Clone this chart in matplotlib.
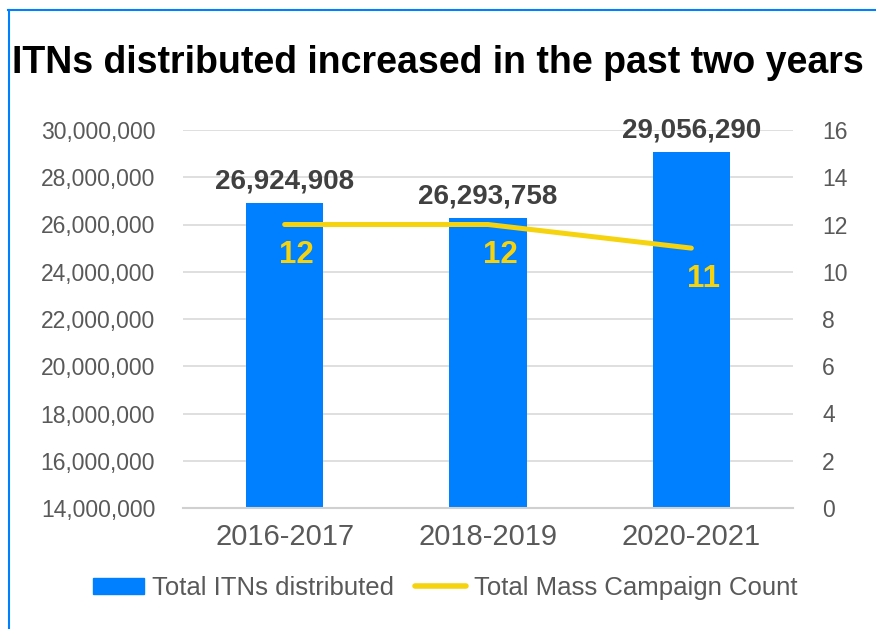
import matplotlib.pyplot as plt
from matplotlib.lines import Line2D
from matplotlib.ticker import FuncFormatter

# data
periods = ["2016-2017", "2018-2019", "2020-2021"]
itns = [26924908, 26293758, 29056290]
campaigns = [12, 12, 11]

blue = "#0080FF"
yellow = "#F5D40F"
grey = "#595959"

plt.rcParams['font.family'] = ['Liberation Sans', 'DejaVu Sans']

fig = plt.figure(figsize=(8.76, 6.29), dpi=100)
ax = fig.add_axes([183 / 876, 1 - 508 / 629, 610 / 876, 378 / 629])
ax2 = ax.twinx()

x = range(len(periods))
bars = ax.bar(x, itns, width=0.38, color=blue, zorder=2, label="Total ITNs distributed")
ax.set_ylim(14000000, 30000000)
ax.set_yticks(range(14000000, 30000001, 2000000))
ax.yaxis.set_major_formatter(FuncFormatter(lambda v, p: f"{int(v):,}"))
ax.set_xlim(-0.5, 2.5)
ax.set_xticks(list(x))
ax.set_xticklabels(periods, fontsize=21, color=grey)
ax.tick_params(axis='y', labelsize=16.5, colors=grey, length=0, pad=20)
ax.tick_params(axis='x', length=0, pad=11)
ax.grid(axis='y', color="#D9D9D9", linewidth=1.2, zorder=0)
ax.set_axisbelow(True)
for s in ["top", "right", "left"]:
    ax.spines[s].set_visible(False)
ax.spines["bottom"].set_color("#D0D0D0")
ax.spines["bottom"].set_linewidth(1.5)

for xi, v in zip(x, itns):
    ax.annotate(f"{v:,}", (xi, v), xytext=(0, 6), textcoords="offset points",
                ha="center", va="bottom", fontsize=20, fontweight="bold", color="#404040")

ax2.plot(list(x), campaigns, color=yellow, linewidth=3.6, solid_capstyle="round", zorder=3)
ax2.set_ylim(0, 16)
ax2.set_yticks(range(0, 17, 2))
ax2.tick_params(axis='y', labelsize=16.5, colors=grey, length=0, pad=21)
for s in ["top", "right", "left", "bottom"]:
    ax2.spines[s].set_visible(False)
for xi, v in zip(x, campaigns):
    ax2.annotate(str(v), (xi, v), xytext=(8.6, -22), textcoords="offset points",
                 ha="center", va="center", fontsize=22.5, fontweight="bold", color=yellow)

fig.text(12 / 876, 1 - 63 / 629, "ITNs distributed increased in the past two years",
         fontsize=27, fontweight="bold", color="black", va="center", ha="left")

handles = [plt.Rectangle((0, 0), 1, 1, color=blue),
           Line2D([0], [0], color=yellow, linewidth=4, solid_capstyle="round")]
fig.legend(handles, ["Total ITNs distributed", "Total Mass Campaign Count"],
           loc="center", bbox_to_anchor=(445 / 876, 1 - 588 / 629), ncol=2, frameon=False,
           fontsize=18.5, labelcolor=grey, handlelength=2.0, handleheight=0.6,
           handletextpad=0.3, columnspacing=0.8)

# blue frame lines
fig.add_artist(Line2D([8 / 876, 1], [1 - 10 / 629, 1 - 10 / 629], color=blue, linewidth=1.5))
fig.add_artist(Line2D([9 / 876, 9 / 876], [0, 1 - 10 / 629], color=blue, linewidth=1.5))

fig.savefig("out.png", dpi=100)
